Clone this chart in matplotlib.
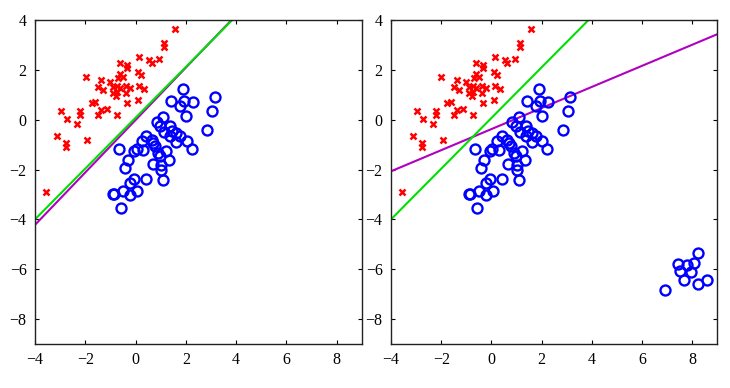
import matplotlib
matplotlib.use("Agg")
import matplotlib.pyplot as plt

# Class 1 (red crosses)
red_x = [1.56, 1.14, 1.14, 0.13, 0.54, 0.64, 0.94, -0.62, -0.32, -0.32, 0.10, 0.21,
         -0.62, -1.99, -1.39, -1.02, -0.71, -0.49, -1.49, -1.29, -0.91, -0.75, -0.89,
         -0.73, -0.78, -0.60, -0.36, -0.23, -0.38, 0.14, 0.33, 0.10, -0.32, -1.75,
         -1.62, -1.39, -1.13, -1.49, -2.21, -2.21, -2.98, -2.74, -2.34, -0.73, -3.14,
         -2.77, -2.77, -1.92, -3.57]
red_y = [3.64, 3.07, 2.93, 2.51, 2.40, 2.29, 2.45, 2.27, 2.20, 2.07, 1.93, 1.80,
         1.84, 1.73, 1.60, 1.53, 1.67, 1.73, 1.31, 1.20, 1.31, 1.36, 1.07,
         1.13, 0.96, 1.27, 1.36, 1.27, 1.09, 1.36, 1.24, 0.80, 0.67, 0.67,
         0.69, 0.40, 0.44, 0.20, 0.33, 0.20, 0.36, 0.03, -0.17, 0.20, -0.67,
         -0.93, -1.11, -0.80, -2.91]

# Class 2 (blue circles)
blue_x = [1.89, 3.15, 1.40, 1.92, 2.27, 1.76, 3.06, 2.00, 1.10, 0.84, 0.99, 1.36,
          1.14, 1.47, 1.60, 1.36, 1.76, 1.60, 2.03, 2.23, 2.86, 0.41, 0.24, 0.70,
          0.04, 0.30, -0.07, -0.65, 0.90, 1.23, 0.97, 1.34, 0.68, 1.01, 1.03, -0.29,
          -0.42, 0.41, 1.10, -0.05, -0.23, 0.06, -0.49, -0.89, -0.84, -0.23, -0.56,
          0.64, 0.77]
blue_y = [1.23, 0.93, 0.73, 0.76, 0.69, 0.53, 0.36, 0.13, 0.11, -0.11, -0.27, -0.24,
          -0.51, -0.47, -0.53, -0.67, -0.67, -0.91, -0.87, -1.16, -0.43, -0.67, -0.87, -0.93,
          -1.16, -1.20, -1.27, -1.16, -1.33, -1.27, -1.47, -1.60, -1.76, -1.80, -2.00, -1.60,
          -1.93, -2.37, -2.40, -2.37, -2.53, -2.87, -2.87, -3.00, -2.97, -3.04, -3.53,
          -0.83, -1.07]

# Extra outlier cluster (right panel only)
extra_x = [8.24, 7.44, 7.80, 8.09, 7.53, 7.96, 7.66, 8.57, 8.22, 6.93]
extra_y = [-5.33, -5.80, -5.84, -5.73, -6.09, -6.11, -6.43, -6.44, -6.60, -6.83]

# Decision boundaries (endpoints in data coordinates)
left_green_x = [-4.0, 3.85]
left_green_y = [-4.0, 4.0]
left_mag_x = [-4.0, 3.82]
left_mag_y = [-4.22, 4.0]
right_green_x = [-4.0, 3.87]
right_green_y = [-4.0, 4.0]
right_mag_x = [-4.0, 9.0]
right_mag_y = [-2.07, 3.43]

xticks = [-4, -2, 0, 2, 4, 6, 8]
yticks = [-8, -6, -4, -2, 0, 2, 4]

plt.rcParams['font.family'] = ['Liberation Serif', 'DejaVu Serif']
plt.rcParams['axes.unicode_minus'] = True

fig = plt.figure(figsize=(7.3, 3.88), dpi=100)
ax1 = fig.add_axes([35/730, 44/388, 326.7/730, 324/388])
ax2 = fig.add_axes([391/730, 44/388, 326.3/730, 324/388])

GREEN = '#00e000'
MAG = '#b000c0'

def style(ax):
    ax.set_xlim(-4, 9)
    ax.set_ylim(-9, 4)
    ax.set_xticks(xticks)
    ax.set_yticks(yticks)
    ax.tick_params(direction='in', length=3, width=0.8, top=True, right=True,
                   labelsize=11.5, pad=6, colors='black')
    for s in ax.spines.values():
        s.set_color('#222222')
        s.set_linewidth(1.0)

for ax in (ax1, ax2):
    ax.plot(red_x, red_y, linestyle='none', marker='x', color='#ff0000',
            markersize=5, markeredgewidth=1.8, zorder=3)
    ax.plot(blue_x, blue_y, linestyle='none', marker='o', markerfacecolor='none',
            markeredgecolor='#0000ff', markersize=7.2, markeredgewidth=1.7, zorder=3)

ax2.plot(extra_x, extra_y, linestyle='none', marker='o', markerfacecolor='none',
         markeredgecolor='#0000ff', markersize=7.2, markeredgewidth=1.7, zorder=3)

ax1.plot(left_mag_x, left_mag_y, color=MAG, linewidth=1.5, zorder=2)
ax1.plot(left_green_x, left_green_y, color=GREEN, linewidth=1.5, zorder=2)
ax2.plot(right_mag_x, right_mag_y, color=MAG, linewidth=1.5, zorder=2)
ax2.plot(right_green_x, right_green_y, color=GREEN, linewidth=1.5, zorder=2)

for ax in (ax1, ax2):
    style(ax)

fig.savefig('out.png', dpi=100)
